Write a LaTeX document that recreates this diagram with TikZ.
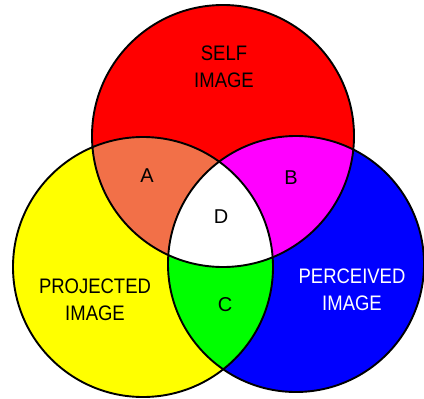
\documentclass[tikz,border=0pt]{standalone}
\usepackage{fontspec}
\setmainfont{Liberation Sans}
\usepackage{graphicx}
\definecolor{SelfRed}{RGB}{255,0,0}
\definecolor{ProjYellow}{RGB}{255,255,0}
\definecolor{PercBlue}{RGB}{0,0,255}
\definecolor{AreaA}{RGB}{242,112,72}
\definecolor{AreaB}{RGB}{255,0,255}
\definecolor{AreaC}{RGB}{0,255,0}
\newcommand{\nar}[1]{\scalebox{0.88}[1]{#1}}

\begin{document}
\begin{tikzpicture}[x=1pt,y=-1pt,
    ring/.style={draw=black, line width=1.9pt},
    title/.style={font=\fontsize{21}{27}\selectfont, align=center, inner sep=0pt},
    area/.style={font=\fontsize{20}{22}\selectfont, inner sep=0pt}
  ]
  \useasboundingbox (0,0) rectangle (424,399);
  \coordinate (self) at (223,136);
  \coordinate (proj) at (143,267);
  \coordinate (perc) at (296,264);
  % the three sets
  \fill[SelfRed] (self) circle[radius=131pt];
  \fill[ProjYellow] (proj) circle[radius=130pt];
  \fill[PercBlue] (perc) circle[radius=128pt];
  % overlaps
  \begin{scope}
    \clip (self) circle[radius=131pt];
    \fill[AreaA] (proj) circle[radius=130pt];
    \fill[AreaB] (perc) circle[radius=128pt];
  \end{scope}
  \begin{scope}
    \clip (proj) circle[radius=130pt];
    \fill[AreaC] (perc) circle[radius=128pt];
  \end{scope}
  \begin{scope}
    \clip (self) circle[radius=131pt];
    \clip (proj) circle[radius=130pt];
    \fill[white] (perc) circle[radius=128pt];
  \end{scope}
  \draw[ring] (self) circle[radius=131pt];
  \draw[ring] (proj) circle[radius=130pt];
  \draw[ring] (perc) circle[radius=128pt];
  % labels
  \node[title] (tself) at (224,67) {\nar{SELF}\\\nar{IMAGE}};
  \node[title] (tproj) at (95,300) {\nar{PROJECTED}\\\nar{IMAGE}};
  \node[title, text=white] (tperc) at (352,290) {\nar{PERCEIVED}\\\nar{IMAGE}};
  \node[area] (la) at (147,176) {A};
  \node[area] (lb) at (291,178) {B};
  \node[area] (lc) at (225,305) {C};
  \node[area] (ld) at (221,217) {D};
\end{tikzpicture}
\end{document}
